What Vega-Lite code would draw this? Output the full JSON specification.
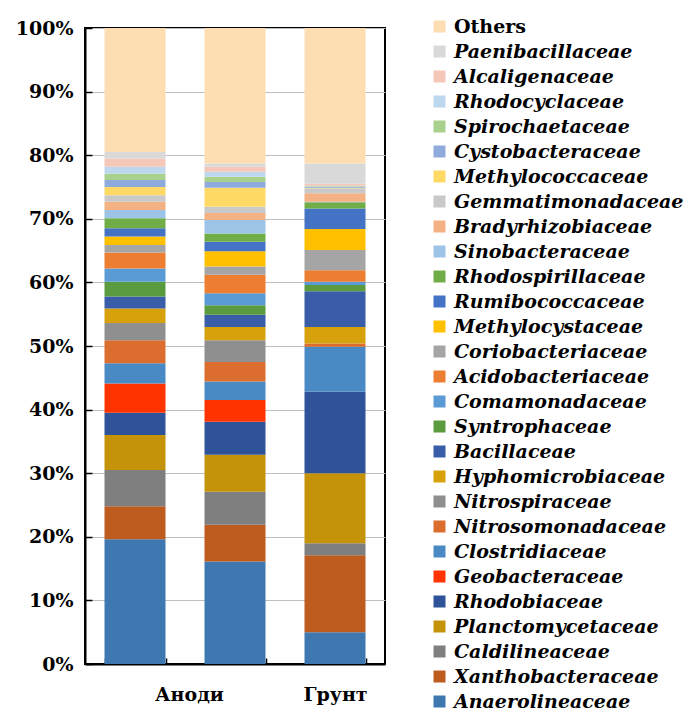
{
  "$schema": "https://vega.github.io/schema/vega-lite/v6.json",
  "width": 300,
  "height": 636,
  "autosize": "none",
  "padding": {"left": 85, "top": 28, "right": 307, "bottom": 49},
  "background": "white",
  "config": {"view": {"stroke": "#000000", "strokeWidth": 2}, "font": "DejaVu Serif"},
  "data": {"values": [
    {"sample": "A1", "family": "Anaerolineaceae", "pct": 19.6},
    {"sample": "A1", "family": "Xanthobacteraceae", "pct": 5.2},
    {"sample": "A1", "family": "Caldilineaceae", "pct": 5.7},
    {"sample": "A1", "family": "Planctomycetaceae", "pct": 5.5},
    {"sample": "A1", "family": "Rhodobiaceae", "pct": 3.5},
    {"sample": "A1", "family": "Geobacteraceae", "pct": 4.6},
    {"sample": "A1", "family": "Clostridiaceae", "pct": 3.2},
    {"sample": "A1", "family": "Nitrosomonadaceae", "pct": 3.6},
    {"sample": "A1", "family": "Nitrospiraceae", "pct": 2.7},
    {"sample": "A1", "family": "Hyphomicrobiaceae", "pct": 2.3},
    {"sample": "A1", "family": "Bacillaceae", "pct": 1.9},
    {"sample": "A1", "family": "Syntrophaceae", "pct": 2.3},
    {"sample": "A1", "family": "Comamonadaceae", "pct": 2.1},
    {"sample": "A1", "family": "Acidobacteriaceae", "pct": 2.5},
    {"sample": "A1", "family": "Coriobacteriaceae", "pct": 1.2},
    {"sample": "A1", "family": "Methylocystaceae", "pct": 1.3},
    {"sample": "A1", "family": "Rumibococcaceae", "pct": 1.3},
    {"sample": "A1", "family": "Rhodospirillaceae", "pct": 1.6},
    {"sample": "A1", "family": "Sinobacteraceae", "pct": 1.3},
    {"sample": "A1", "family": "Bradyrhizobiaceae", "pct": 1.3},
    {"sample": "A1", "family": "Gemmatimonadaceae", "pct": 1.0},
    {"sample": "A1", "family": "Methylococcaceae", "pct": 1.3},
    {"sample": "A1", "family": "Cystobacteraceae", "pct": 1.1},
    {"sample": "A1", "family": "Spirochaetaceae", "pct": 1.0},
    {"sample": "A1", "family": "Rhodocyclaceae", "pct": 1.1},
    {"sample": "A1", "family": "Alcaligenaceae", "pct": 1.3},
    {"sample": "A1", "family": "Paenibacillaceae", "pct": 1.0},
    {"sample": "A1", "family": "Others", "pct": 19.5},
    {"sample": "A2", "family": "Anaerolineaceae", "pct": 16.1},
    {"sample": "A2", "family": "Xanthobacteraceae", "pct": 5.8},
    {"sample": "A2", "family": "Caldilineaceae", "pct": 5.2},
    {"sample": "A2", "family": "Planctomycetaceae", "pct": 5.8},
    {"sample": "A2", "family": "Rhodobiaceae", "pct": 5.2},
    {"sample": "A2", "family": "Geobacteraceae", "pct": 3.4},
    {"sample": "A2", "family": "Clostridiaceae", "pct": 2.9},
    {"sample": "A2", "family": "Nitrosomonadaceae", "pct": 3.1},
    {"sample": "A2", "family": "Nitrospiraceae", "pct": 3.4},
    {"sample": "A2", "family": "Hyphomicrobiaceae", "pct": 2.1},
    {"sample": "A2", "family": "Bacillaceae", "pct": 1.9},
    {"sample": "A2", "family": "Syntrophaceae", "pct": 1.5},
    {"sample": "A2", "family": "Comamonadaceae", "pct": 1.9},
    {"sample": "A2", "family": "Acidobacteriaceae", "pct": 2.9},
    {"sample": "A2", "family": "Coriobacteriaceae", "pct": 1.3},
    {"sample": "A2", "family": "Methylocystaceae", "pct": 2.4},
    {"sample": "A2", "family": "Rumibococcaceae", "pct": 1.5},
    {"sample": "A2", "family": "Rhodospirillaceae", "pct": 1.3},
    {"sample": "A2", "family": "Sinobacteraceae", "pct": 2.1},
    {"sample": "A2", "family": "Bradyrhizobiaceae", "pct": 1.1},
    {"sample": "A2", "family": "Gemmatimonadaceae", "pct": 1.0},
    {"sample": "A2", "family": "Methylococcaceae", "pct": 3.0},
    {"sample": "A2", "family": "Cystobacteraceae", "pct": 0.9},
    {"sample": "A2", "family": "Spirochaetaceae", "pct": 0.8},
    {"sample": "A2", "family": "Rhodocyclaceae", "pct": 0.8},
    {"sample": "A2", "family": "Alcaligenaceae", "pct": 0.8},
    {"sample": "A2", "family": "Paenibacillaceae", "pct": 0.5},
    {"sample": "A2", "family": "Others", "pct": 21.3},
    {"sample": "Грунт", "family": "Anaerolineaceae", "pct": 5.0},
    {"sample": "Грунт", "family": "Xanthobacteraceae", "pct": 12.1},
    {"sample": "Грунт", "family": "Caldilineaceae", "pct": 1.9},
    {"sample": "Грунт", "family": "Planctomycetaceae", "pct": 11.0},
    {"sample": "Грунт", "family": "Rhodobiaceae", "pct": 12.8},
    {"sample": "Грунт", "family": "Geobacteraceae", "pct": 0.0},
    {"sample": "Грунт", "family": "Clostridiaceae", "pct": 7.1},
    {"sample": "Грунт", "family": "Nitrosomonadaceae", "pct": 0.5},
    {"sample": "Грунт", "family": "Nitrospiraceae", "pct": 0.0},
    {"sample": "Грунт", "family": "Hyphomicrobiaceae", "pct": 2.6},
    {"sample": "Грунт", "family": "Bacillaceae", "pct": 5.6},
    {"sample": "Грунт", "family": "Syntrophaceae", "pct": 1.0},
    {"sample": "Грунт", "family": "Comamonadaceae", "pct": 0.5},
    {"sample": "Грунт", "family": "Acidobacteriaceae", "pct": 1.8},
    {"sample": "Грунт", "family": "Coriobacteriaceae", "pct": 3.2},
    {"sample": "Грунт", "family": "Methylocystaceae", "pct": 3.3},
    {"sample": "Грунт", "family": "Rumibococcaceae", "pct": 3.2},
    {"sample": "Грунт", "family": "Rhodospirillaceae", "pct": 1.0},
    {"sample": "Грунт", "family": "Sinobacteraceae", "pct": 0.1},
    {"sample": "Грунт", "family": "Bradyrhizobiaceae", "pct": 1.3},
    {"sample": "Грунт", "family": "Gemmatimonadaceae", "pct": 0.8},
    {"sample": "Грунт", "family": "Methylococcaceae", "pct": 0.1},
    {"sample": "Грунт", "family": "Cystobacteraceae", "pct": 0.1},
    {"sample": "Грунт", "family": "Spirochaetaceae", "pct": 0.1},
    {"sample": "Грунт", "family": "Rhodocyclaceae", "pct": 0.1},
    {"sample": "Грунт", "family": "Alcaligenaceae", "pct": 0.3},
    {"sample": "Грунт", "family": "Paenibacillaceae", "pct": 3.2},
    {"sample": "Грунт", "family": "Others", "pct": 21.3}
  ]},
  "transform": [
    {"stack": "pct", "groupby": ["sample"], "as": ["lo", "hi"], "offset": "zero"}
  ],
  "mark": {"type": "bar"},
  "encoding": {
    "x": {
      "field": "sample", "type": "nominal", "sort": ["A1", "A2", "Грунт"],
      "scale": {"paddingInner": 0.39, "paddingOuter": 0.195},
      "axis": {
        "title": null,
        "labelExpr": "datum.value == 'A1' ? 'Аноди' : (datum.value == 'A2' ? '' : datum.value)",
        "labelAngle": 0, "labelFont": "DejaVu Serif", "labelFontWeight": "bold",
        "labelFontSize": 19, "labelColor": "#000000", "labelPadding": 27,
        "labelOffset": {"condition": {"test": "datum.value == 'A1'", "value": 54}, "value": 0},
        "tickBand": "extent", "tickSize": -6, "tickColor": "#000000", "tickWidth": 1.5,
        "domainColor": "#000000", "domainWidth": 2, "grid": false
      }
    },
    "y": {
      "field": "lo", "type": "quantitative",
      "scale": {"domain": [0, 100], "nice": false},
      "axis": {
        "title": null, "values": [0, 10, 20, 30, 40, 50, 60, 70, 80, 90, 100],
        "labelExpr": "datum.value + '%'",
        "labelFont": "DejaVu Serif", "labelFontWeight": "bold", "labelFontSize": 19,
        "labelColor": "#000000", "labelPadding": 19,
        "tickSize": -7, "tickColor": "#000000", "tickWidth": 1.5,
        "domainColor": "#000000", "domainWidth": 2,
        "gridColor": "#bfbfbf", "gridWidth": 1.2
      }
    },
    "y2": {"field": "hi"},
    "color": {
      "field": "family", "type": "nominal",
      "scale": {
        "domain": ["Others", "Paenibacillaceae", "Alcaligenaceae", "Rhodocyclaceae", "Spirochaetaceae", "Cystobacteraceae", "Methylococcaceae", "Gemmatimonadaceae", "Bradyrhizobiaceae", "Sinobacteraceae", "Rhodospirillaceae", "Rumibococcaceae", "Methylocystaceae", "Coriobacteriaceae", "Acidobacteriaceae", "Comamonadaceae", "Syntrophaceae", "Bacillaceae", "Hyphomicrobiaceae", "Nitrospiraceae", "Nitrosomonadaceae", "Clostridiaceae", "Geobacteraceae", "Rhodobiaceae", "Planctomycetaceae", "Caldilineaceae", "Xanthobacteraceae", "Anaerolineaceae"],
        "range": ["#FDDDB2", "#D9D9D9", "#F4C7B8", "#BDD7EE", "#A9D18E", "#8FAADC", "#FFD966", "#C9C9C9", "#F4B183", "#9DC3E6", "#70AD47", "#4472C4", "#FFC000", "#A5A5A5", "#ED7D31", "#5B9BD5", "#5B9B3F", "#3A5DAA", "#D6A10A", "#8F8F8F", "#DB6E2E", "#4A8AC4", "#FF3300", "#2F5399", "#C4930A", "#7F7F7F", "#BE5B1E", "#3F78B0"]
      },
      "legend": {
        "title": null, "orient": "none", "legendX": 345, "legendY": -11,
        "symbolType": "square", "symbolSize": 144, "symbolStrokeWidth": 0,
        "labelFont": "DejaVu Serif", "labelFontSize": 19, "labelFontWeight": "bold",
        "labelColor": "#000000", "labelOffset": 5, "rowPadding": 5, "padding": 0,
        "labelLimit": 300,
        "encode": {"labels": {"update": {"fontStyle": {"signal": "datum.value === 'Others' ? 'normal' : 'italic'"}}}}
      }
    }
  }
}
